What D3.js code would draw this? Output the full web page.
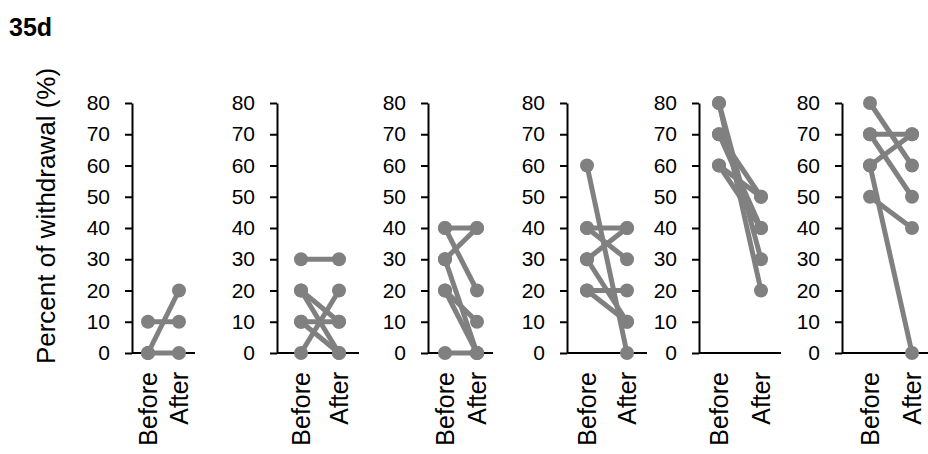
<!DOCTYPE html>
<html>
<head>
<meta charset="utf-8">
<script src="https://cdn.jsdelivr.net/npm/d3@7/dist/d3.min.js"></script>
<style>
  html, body { margin: 0; padding: 0; background: #fff; }
  svg { display: block; font-family: "Liberation Sans", Arial, sans-serif; }
</style>
</head>
<body>
<svg id="chart" width="928" height="454"></svg>
<script>
// ---- Data ----
const title = "35d";
const yTitle = "Percent of withdrawal (%)";
const categories = ["Before", "After"];
const yTicks = [0, 10, 20, 30, 40, 50, 60, 70, 80];

// each pair = [Before, After] for one subject
const panel1 = [[0, 20], [10, 10], [0, 0]];
const panel2 = [[30, 30], [20, 0], [20, 10], [10, 10], [10, 0], [0, 20]];
const panel3 = [[40, 40], [40, 20], [30, 40], [30, 0], [20, 10], [20, 0], [0, 0]];
const panel4 = [[60, 0], [40, 40], [40, 30], [30, 40], [30, 10], [20, 20], [20, 10]];
const panel5 = [[80, 20], [80, 30], [70, 50], [70, 40], [60, 50], [60, 40]];
const panel6 = [[80, 60], [70, 70], [70, 50], [60, 70], [60, 0], [50, 40]];
const panelData = [panel1, panel2, panel3, panel4, panel5, panel6];

// ---- Layout ----
const layout = [
  { axisX: 132, xEnd: 195, xB: 148, xA: 179 },
  { axisX: 277, xEnd: 359, xB: 301, xA: 339 },
  { axisX: 428, xEnd: 493, xB: 445, xA: 477 },
  { axisX: 567, xEnd: 647, xB: 587, xA: 627 },
  { axisX: 699, xEnd: 781, xB: 719, xA: 761 },
  { axisX: 842, xEnd: 928, xB: 870, xA: 912 }
];
const yTop = 103, yBottom = 353;
const color = "#808080";
const font = "'Liberation Sans', Arial, sans-serif";

const svg = d3.select("#chart");

svg.append("text")
  .attr("x", 9).attr("y", 36)
  .attr("font-size", 25).attr("font-weight", "bold")
  .text(title);

svg.append("text")
  .attr("transform", "translate(55,216) rotate(-90)")
  .attr("text-anchor", "middle")
  .attr("font-size", 26)
  .text(yTitle);

const y = d3.scaleLinear().domain([0, 80]).range([yBottom, yTop]);

panelData.forEach((data, i) => {
  const L = layout[i];
  const x = d3.scalePoint().domain(categories).range([L.xB, L.xA]);
  const g = svg.append("g");

  // y axis
  const yAxis = d3.axisLeft(y).tickValues(yTicks).tickSizeInner(7).tickSizeOuter(0).tickPadding(15);
  const ya = g.append("g").attr("transform", `translate(${L.axisX},0)`).call(yAxis);
  ya.attr("font-family", font).attr("font-size", 21);
  ya.select(".domain").attr("stroke", "#000").attr("stroke-width", 2);
  ya.selectAll(".tick line").attr("stroke", "#000").attr("stroke-width", 2);
  ya.selectAll(".tick text").attr("font-size", 21).attr("fill", "#000");

  // x axis baseline
  g.append("line")
    .attr("x1", L.axisX).attr("x2", L.xEnd)
    .attr("y1", y(0)).attr("y2", y(0))
    .attr("stroke", "#000").attr("stroke-width", 2);

  // x labels (rotated)
  categories.forEach(c => {
    g.append("text")
      .attr("transform", `translate(${x(c) + 9},${yBottom + 19}) rotate(-90)`)
      .attr("text-anchor", "end")
      .attr("font-size", 25)
      .text(c);
  });

  // lines
  g.selectAll("line.subj").data(data).enter().append("line")
    .attr("class", "subj")
    .attr("x1", x("Before")).attr("y1", d => y(d[0]))
    .attr("x2", x("After")).attr("y2", d => y(d[1]))
    .attr("stroke", color).attr("stroke-width", 5);

  // points
  data.forEach(d => {
    g.append("circle").attr("cx", x("Before")).attr("cy", y(d[0])).attr("r", 7).attr("fill", color);
    g.append("circle").attr("cx", x("After")).attr("cy", y(d[1])).attr("r", 7).attr("fill", color);
  });
});
</script>
</body>
</html>
